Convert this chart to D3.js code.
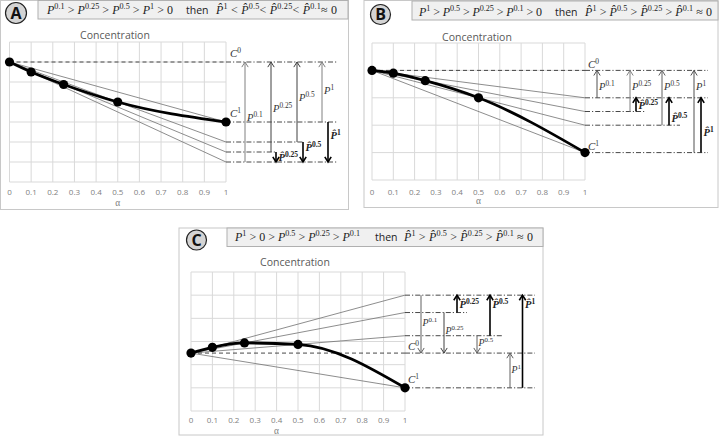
<!DOCTYPE html>
<html><head><meta charset="utf-8">
<script src="https://cdn.jsdelivr.net/npm/d3@7"></script>
<style>body{margin:0;background:#fff}</style>
</head><body><svg id="c" width="721" height="437" xmlns="http://www.w3.org/2000/svg"></svg>
<script>
// ---------- data ----------
const alphas = [0, 0.1, 0.25, 0.5, 1];
const xTickValues = [0, 0.1, 0.2, 0.3, 0.4, 0.5, 0.6, 0.7, 0.8, 0.9, 1];
const xTickLabels = ["0", "0.1", "0.2", "0.3", "0.4", "0.5", "0.6", "0.7", "0.8", "0.9", "1"];
const concA = [6, 5.5, 4.875, 4, 3];
const concB = [4, 3.9, 3.625, 3, 1];
const concC = [2.5, 2.75, 2.9375, 2.875, 1];
const arrowAlphas = [0.1, 0.25, 0.5, 1];
const hatAlphas = [0.25, 0.5, 1];
const titleA = ["P^{0.1} > P^{0.25} > P^{0.5} > P^{1} > 0", "then", "H^{1} < H^{0.5}< H^{0.25}< H^{0.1}≈ 0"];
const titleB = ["P^{1} > P^{0.5} > P^{0.25} > P^{0.1} > 0", "then", "H^{1} > H^{0.5} > H^{0.25} > H^{0.1} ≈ 0"];
const titleC = ["P^{1} > 0 > P^{0.5} > P^{0.25} > P^{0.1}", "then", "H^{1} > H^{0.5} > H^{0.25} > H^{0.1} ≈ 0"];

// ---------- layout ----------
const layoutA = {
  box:[0.5,0.5,348,209], tbox:[38,0.5,310,18.5], badge:[16,13,10.5], letter:"A",
  px0:9.5, px1:226, pyTop:42, pyBot:182, yMax:7,
  concXY:[115,39], tickY:195, alphaY:206, alphaAt:0.5, titleX:[47,186,216], titleW:[126,121], titleY:14,
  colP:{0.1:19,0.25:45,0.5:71,1:96}, colH:{0.25:50,0.5:77,1:102},
  lineEnd:112, levelEnd:{0.25:51,0.5:77}, labFont:10.5, labDx:2,
  labP:{0.1:3.05,0.25:3.5,0.5:4.05,1:4.4}, labH:{0.25:1.05,0.5:1.55,1:2.15},
  pColor:{0.1:"#808080",0.25:"#404040",0.5:"#404040",1:"#808080"},
  c0lab:[230,57], c1lab:[230,117]
};
const layoutB = {
  box:[364,0.5,354,207], tbox:[412,1,306,19], badge:[380.5,14.5,10], letter:"B",
  px0:372, px1:585, pyTop:43, pyBot:180, yMax:5,
  concXY:[477,41], tickY:195, alphaY:204, alphaAt:0.5, titleX:[419,555,585], titleW:[123,127], titleY:16,
  colP:{0.1:12,0.25:45,0.5:77,1:109}, colH:{0.25:51,0.5:84,1:116},
  lineEnd:123, levelEnd:{0.25:60,0.5:95}, labFont:10.5, labDx:2,
  labP:{0.1:3.3,0.25:3.3,0.5:3.3,1:3.3}, labH:{0.25:2.6,0.5:2.12,1:1.6},
  pColor:{0.1:"#505050",0.25:"#808080",0.5:"#606060",1:"#505050"},
  c0lab:[588,68], c1lab:[588,150]
};
const layoutC = {
  box:[179,228,364,207], tbox:[227,228,316,18.5], badge:[196.5,240,10], letter:"C",
  px0:191, px1:405, pyTop:272, pyBot:411, yMax:6,
  concXY:[295,266], tickY:423, alphaY:433.5, alphaAt:0.4, titleX:[235,375,404], titleW:[125,129], titleY:241,
  colP:{0.1:16,0.25:39,0.5:72,1:105}, colH:{0.25:52,0.5:85,1:117.5},
  lineEnd:130, levelEnd:{0.25:62,0.5:97}, labFont:9.8, labDx:1.5,
  labP:{0.1:3.67,0.25:3.32,0.5:2.8,1:1.64}, labH:{0.25:4.45,0.5:4.45,1:4.45},
  pColor:{0.1:"#606060",0.25:"#404040",0.5:"#606060",1:"#606060"},
  c0lab:[408,350], c1lab:[408,383]
};

const svg = d3.select("#c");
const MATH = "'Liberation Serif','DejaVu Serif',serif";
const SANS = "'Open Sans','Noto Sans','DejaVu Sans',sans-serif";

function mathText(sel, str, size, bold, supScale) {
  const ss = supScale || 0.68;
  const t = sel.append("text").attr("font-family", MATH).attr("font-size", size)
    .attr("font-weight", bold ? "bold" : "normal").attr("fill", "#222");
  const re = /([PH])\^\{([^}]*)\}/g;
  let last = 0, m, shift = 0;
  const add = (txt, opts) => {
    const ts = t.append("tspan").text(txt);
    const want = opts.sup ? -size * 0.38 : 0;
    if (want !== shift) { ts.attr("dy", want - shift); shift = want; }
    if (opts.it) ts.attr("font-style", "italic");
    if (opts.sup) ts.attr("font-size", size * ss);
    return ts;
  };
  while ((m = re.exec(str)) !== null) {
    if (m.index > last) add(str.slice(last, m.index), {});
    add(m[1] === "H" ? "P\u0302" : "P", {it: true});
    add(m[2], {sup: true});
    last = re.lastIndex;
  }
  if (last < str.length) add(str.slice(last), {});
  return t;
}

function drawPanel(conc, L, title) {
  const g = svg.append("g");
  const x = d3.scaleLinear().domain([0, 1]).range([L.px0, L.px1]);
  const y = d3.scaleLinear().domain([0, L.yMax]).range([L.pyBot, L.pyTop]);

  g.append("rect").attr("x", L.box[0]).attr("y", L.box[1]).attr("width", L.box[2]).attr("height", L.box[3])
    .attr("fill", "#fff").attr("stroke", "#c8c8c8").attr("stroke-width", 1);
  g.append("rect").attr("x", L.tbox[0]).attr("y", L.tbox[1]).attr("width", L.tbox[2]).attr("height", L.tbox[3])
    .attr("fill", "#f0f0f0").attr("stroke", "#b0b0b0").attr("stroke-width", 1);
  const tt = g.append("g").attr("transform", `translate(0,${L.titleY})`);
  mathText(tt, title[0], 12, false).attr("x", L.titleX[0])
    .attr("textLength", L.titleW[0]).attr("lengthAdjust", "spacing");
  tt.append("text").attr("x", L.titleX[1]).attr("font-family", SANS).attr("font-size", 10.5)
    .attr("fill", "#222").text(title[1]);
  mathText(tt, title[2], 12, false).attr("x", L.titleX[2])
    .attr("textLength", L.titleW[1]).attr("lengthAdjust", "spacing");

  g.append("circle").attr("cx", L.badge[0]).attr("cy", L.badge[1]).attr("r", L.badge[2])
    .attr("fill", "#d4d4d4").attr("stroke", "#222").attr("stroke-width", 1.2);
  g.append("text").attr("x", L.badge[0]).attr("y", L.badge[1] + 5.5).attr("text-anchor", "middle")
    .attr("font-family", SANS).attr("font-weight", "bold").attr("font-size", 16).attr("fill", "#111").text(L.letter);

  const grid = g.append("g").attr("stroke", "#d9d9d9").attr("stroke-width", 1);
  grid.selectAll(".v").data(xTickValues).join("line")
    .attr("x1", d => x(d)).attr("x2", d => x(d)).attr("y1", y(L.yMax)).attr("y2", y(0));
  grid.selectAll(".h").data(d3.range(0, L.yMax + 1)).join("line")
    .attr("x1", x(0)).attr("x2", x(1)).attr("y1", d => y(d)).attr("y2", d => y(d));

  g.append("g").selectAll("text").data(xTickValues).join("text")
    .attr("x", d => x(d)).attr("y", L.tickY).attr("text-anchor", "middle")
    .attr("font-family", SANS).attr("font-size", 8).attr("fill", "#808080")
    .text((d, i) => xTickLabels[i]);
  g.append("text").attr("x", x(L.alphaAt)).attr("y", L.alphaY).attr("text-anchor", "middle")
    .attr("font-family", MATH).attr("font-size", 9.5).attr("fill", "#808080").text("α");
  g.append("text").attr("x", L.concXY[0]).attr("y", L.concXY[1]).attr("text-anchor", "middle")
    .attr("font-family", SANS).attr("font-size", 10.5).attr("fill", "#595959").text("Concentration");

  const c0 = conc[0];
  const endOf = a => c0 + (conc[alphas.indexOf(a)] - c0) / a;
  const xr = x(1);

  g.append("g").selectAll("line").data(arrowAlphas).join("line")
    .attr("x1", x(0)).attr("y1", y(c0)).attr("x2", x(1)).attr("y2", a => y(endOf(a)))
    .attr("stroke", "#707070").attr("stroke-width", 0.8);

  g.append("line").attr("x1", x(0)).attr("x2", xr).attr("y1", y(c0)).attr("y2", y(c0))
    .attr("stroke", "#333").attr("stroke-width", 0.9).attr("stroke-dasharray", "4,3");
  const dd = "5,2,1.2,2";
  g.append("line").attr("x1", xr).attr("x2", xr + L.lineEnd).attr("y1", y(c0)).attr("y2", y(c0))
    .attr("stroke", "#333").attr("stroke-width", 0.9).attr("stroke-dasharray", dd);
  g.append("g").selectAll("line").data(arrowAlphas).join("line")
    .attr("x1", xr).attr("x2", a => xr + (L.levelEnd[a] !== undefined ? L.levelEnd[a] : L.lineEnd))
    .attr("y1", a => y(endOf(a))).attr("y2", a => y(endOf(a)))
    .attr("stroke", "#333").attr("stroke-width", 0.9).attr("stroke-dasharray", dd);

  const pts = alphas.map((a, i) => [a, conc[i]]);
  g.append("path").datum(pts)
    .attr("d", d3.line().x(d => x(d[0])).y(d => y(d[1])).curve(d3.curveMonotoneX))
    .attr("fill", "none").attr("stroke", "#000").attr("stroke-width", 2.8);
  g.append("g").selectAll("circle").data(pts).join("circle")
    .attr("cx", d => x(d[0])).attr("cy", d => y(d[1])).attr("r", 4.6).attr("fill", "#000");

  const cl = (xy, sup) => {
    const t = g.append("text").attr("x", xy[0]).attr("y", xy[1]).attr("font-family", MATH)
      .attr("font-size", 11).attr("fill", "#333");
    t.append("tspan").attr("font-style", "italic").text("C");
    t.append("tspan").attr("dy", -4).attr("font-size", 7.5).text(sup);
  };
  cl(L.c0lab, "0");
  cl(L.c1lab, "1");

  const arrow = (ax, yFrom, yTo, color, w, head) => {
    g.append("line").attr("x1", ax).attr("x2", ax).attr("y1", y(yFrom)).attr("y2", y(yTo))
      .attr("stroke", color).attr("stroke-width", w);
    const d = Math.sign(y(yTo) - y(yFrom));
    const ye = y(yTo);
    g.append("path").attr("d", `M${ax - head},${ye - d * head * 1.6}L${ax},${ye}L${ax + head},${ye - d * head * 1.6}`)
      .attr("fill", "none").attr("stroke", color).attr("stroke-width", w);
  };
  arrowAlphas.forEach(a => {
    const ax = xr + L.colP[a];
    arrow(ax, endOf(a), c0, L.pColor[a], 1, 3.2);
    mathText(g, `P^{${a}}`, L.labFont, false, 0.7).attr("x", ax + L.labDx).attr("y", y(L.labP[a])).attr("fill", "#333");
  });
  hatAlphas.forEach(a => {
    const ax = xr + L.colH[a];
    arrow(ax, endOf(a), endOf(0.1), "#000", 1.6, 3.2);
    mathText(g, `H^{${a}}`, 10.5, true, 0.72).attr("x", ax + 2.5).attr("y", y(L.labH[a])).attr("fill", "#222");
  });
}

drawPanel(concA, layoutA, titleA);
drawPanel(concB, layoutB, titleB);
drawPanel(concC, layoutC, titleC);
</script>
</body></html>
